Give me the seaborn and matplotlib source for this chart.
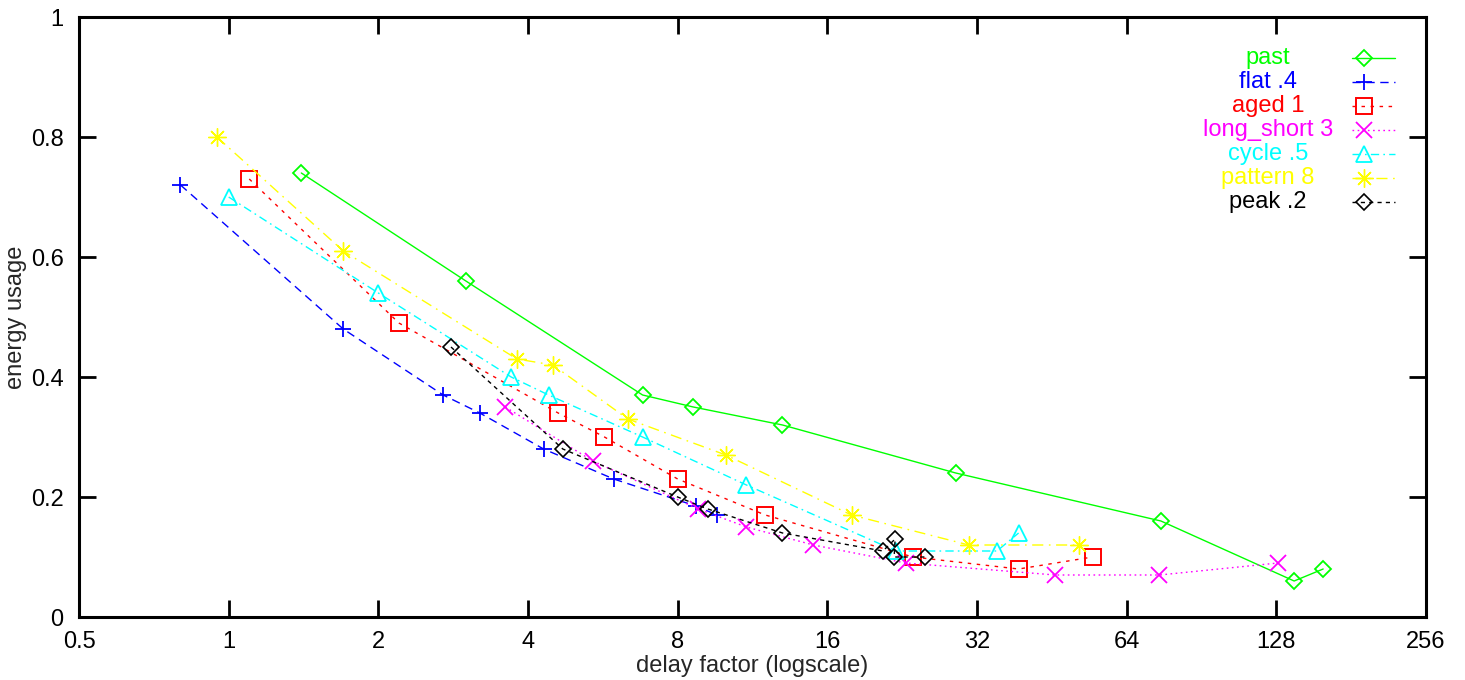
import numpy as np
import pandas as pd
import matplotlib
matplotlib.use("Agg")
import matplotlib.pyplot as plt
import seaborn as sns

# ---- data ----
labels = ["past", "flat .4", "aged 1", "long_short 3", "cycle .5", "pattern 8", "peak .2"]

past_x = [1.40, 3.0, 6.8, 8.6, 13.0, 29.0, 75.0, 139, 159]
past_y = [0.74, 0.56, 0.37, 0.35, 0.32, 0.24, 0.16, 0.06, 0.08]

flat_x = [0.80, 1.70, 2.70, 3.20, 4.30, 5.95, 8.7, 9.6]
flat_y = [0.72, 0.48, 0.37, 0.34, 0.28, 0.23, 0.185, 0.17]

aged_x = [1.10, 2.20, 4.6, 5.7, 8.0, 12.0, 23.8, 38.8, 54.7]
aged_y = [0.73, 0.49, 0.34, 0.30, 0.23, 0.17, 0.10, 0.08, 0.10]

long_x = [3.6, 5.4, 8.8, 11.0, 15.0, 23.0, 46.0, 74.5, 129]
long_y = [0.35, 0.26, 0.18, 0.15, 0.12, 0.09, 0.07, 0.07, 0.09]

cycle_x = [1.0, 2.0, 3.7, 4.4, 6.8, 11.0, 22.0, 35.1, 38.8]
cycle_y = [0.70, 0.54, 0.40, 0.37, 0.30, 0.22, 0.11, 0.11, 0.14]

pattern_x = [0.947, 1.70, 3.80, 4.49, 6.35, 10.0, 17.9, 30.8, 51.3]
pattern_y = [0.80, 0.61, 0.43, 0.42, 0.33, 0.27, 0.17, 0.12, 0.12]

peak_x = [2.80, 4.70, 8.0, 9.2, 13.0, 20.7, 21.9, 21.8, 25.1]
peak_y = [0.45, 0.28, 0.20, 0.18, 0.14, 0.11, 0.13, 0.10, 0.10]

x_ticks = [0.5, 1, 2, 4, 8, 16, 32, 64, 128, 256]
x_ticklabels = ["0.5", "1", "2", "4", "8", "16", "32", "64", "128", "256"]
y_ticks = [0, 0.2, 0.4, 0.6, 0.8, 1.0]
y_ticklabels = ["0", "0.2", "0.4", "0.6", "0.8", "1"]

# ---- styles: colour, marker, marker size, marker edge width, line style ----
series = [
    (past_x, past_y, "#00ff00", "D", 8.5, 1.3, "-"),
    (flat_x, flat_y, "#0000ff", "+", 12, 1.3, (0, (6, 4))),
    (aged_x, aged_y, "#ff0000", "s", 12, 1.4, (0, (2.5, 4))),
    (long_x, long_y, "#ff00ff", "x", 12, 1.3, (0, (1.2, 2.5))),
    (cycle_x, cycle_y, "#00ffff", "^", 12, 1.3, (0, (6, 3, 1.2, 3))),
    (pattern_x, pattern_y, "#ffff00", (8, 2, 0), 13, 1.0, (0, (8, 4, 1.2, 4))),
    (peak_x, peak_y, "#000000", "D", 8.5, 1.2, (0, (3, 3))),
]

FS = 17

sns.set_style("ticks")
plt.rcParams["font.family"] = ["Liberation Sans", "DejaVu Sans"]

fig = plt.figure(figsize=(14.65, 6.8), dpi=100)
ax = fig.add_axes([79 / 1465, 1 - 617 / 680, (1426 - 79) / 1465, 600 / 680])

for (xs, ys, c, m, ms, mew, ls), lab in zip(series, labels):
    df = pd.DataFrame({"x": xs, "y": ys})
    sns.lineplot(data=df, x="x", y="y", ax=ax, sort=False, estimator=None,
                 color=c, linestyle=ls, linewidth=1.0, marker=m, markersize=ms,
                 markerfacecolor="none", markeredgecolor=c, markeredgewidth=mew,
                 legend=False)

ax.set_xscale("log", base=2)
ax.set_xlim(0.5, 256)
ax.set_ylim(0, 1)
ax.set_xticks(x_ticks)
ax.set_xticklabels(x_ticklabels)
ax.set_yticks(y_ticks)
ax.set_yticklabels(y_ticklabels)
ax.minorticks_off()
ax.tick_params(axis="both", which="major", direction="in", length=12.5, width=2,
               labelsize=FS, top=True, right=True, color="black", labelcolor="black")
ax.tick_params(axis="y", pad=11)
ax.tick_params(axis="x", pad=10)
for sp in ax.spines.values():
    sp.set_linewidth(2.2)
    sp.set_color("black")
    sp.set_visible(True)

ax.set_xlabel("delay factor (logscale)", fontsize=FS, labelpad=1.5)
ax.set_ylabel("energy usage", fontsize=FS, labelpad=3)

# ---- legend in gnuplot style (text left, sample right) ----
row0 = (617 - 58) / 600
step = 24 / 600
tx = (1268 - 79) / 1347
lx0, lx1, mx = (1352 - 79) / 1347, (1395 - 79) / 1347, (1364 - 79) / 1347
for i, ((xs, ys, c, m, ms, mew, ls), lab) in enumerate(zip(series, labels)):
    yy = row0 - i * step
    ax.text(tx, yy, lab, transform=ax.transAxes, ha="center", va="center",
            color=c, fontsize=FS)
    ax.plot([lx0, lx1], [yy, yy], transform=ax.transAxes, color=c, linestyle=ls,
            linewidth=1.0, clip_on=False)
    ax.plot([mx], [yy], transform=ax.transAxes, color=c, marker=m, markersize=ms,
            markerfacecolor="none", markeredgecolor=c, markeredgewidth=mew,
            linestyle="none", clip_on=False)

fig.savefig("out.png", dpi=100)
